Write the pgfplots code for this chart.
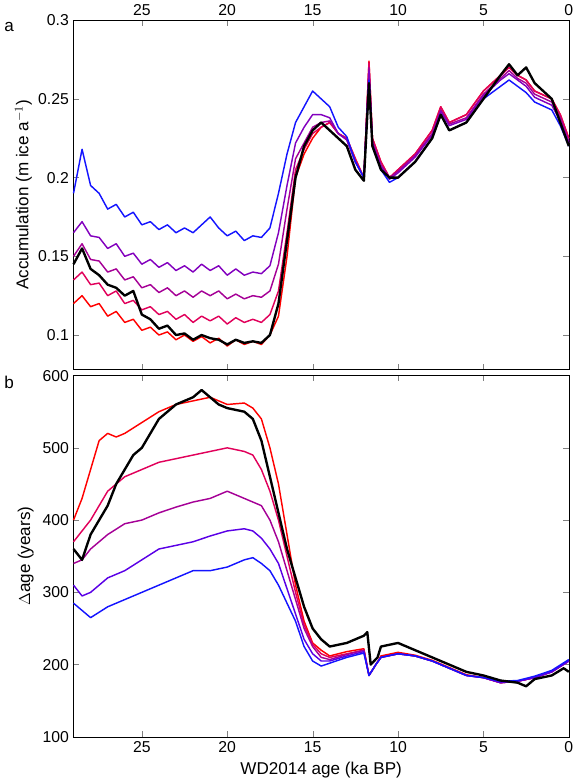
\documentclass[border=0pt]{standalone}
\usepackage{pgfplots}
\pgfplotsset{compat=1.18}
\usepackage{fontspec}
\setmainfont{Liberation Sans}
\definecolor{c1}{RGB}{255,0,0}
\definecolor{c2}{RGB}{225,0,90}
\definecolor{c3}{RGB}{165,0,150}
\definecolor{c4}{RGB}{130,0,190}
\definecolor{c5}{RGB}{90,0,230}
\definecolor{c6}{RGB}{20,20,255}
\begin{document}
\begin{tikzpicture}
\pgfplotsset{every axis/.style={width=377pt,scale only axis,x dir=reverse,xmin=0,xmax=29,
 xtick={0,5,10,15,20,25},tick align=inside,
 /pgf/number format/assume math mode=true,
 tick label style={font=\fontsize{12}{14}\selectfont},
 label style={font=\fontsize{13}{15}\selectfont},
 every axis plot/.append style={line width=1.1pt,line join=round}}}
\begin{axis}[name=top,height=266pt,ymin=0.078,ymax=0.3,ytick={0.1,0.15,0.2,0.25,0.3},
 yticklabel style={/pgf/number format/fixed,/pgf/number format/precision=2},
 xticklabel pos=upper, ylabel={Accumulation (m ice a$^{-1}$)},ylabel shift=-2pt,
 clip=false]
\node[font=\fontsize{13}{15}\selectfont] at (rel axis cs:-0.13,0.98) {a};
% red
\addplot[c1] coordinates {(29,0.12)(28.5,0.125)(28,0.118)(27.5,0.12)(27,0.112)(26.5,0.115)(26,0.108)(25.5,0.11)(25,0.103)(24.5,0.105)(24,0.1)(23.5,0.102)(23,0.097)(22.5,0.1)(22,0.096)(21.5,0.099)(21,0.095)(20.5,0.098)(20,0.093)(19.5,0.097)(19,0.094)(18.5,0.096)(18,0.094)(17.5,0.1)(17,0.112)(16.5,0.15)(16,0.2)(15.5,0.215)(15,0.225)(14.5,0.232)(14,0.235)(13.5,0.228)(13,0.225)(12.5,0.212)(12,0.2)(11.7,0.274)(11.5,0.225)(11,0.21)(10.5,0.2)(10,0.205)(9,0.215)(8,0.23)(7.5,0.245)(7,0.235)(6,0.24)(5,0.255)(4,0.265)(3.5,0.27)(3,0.265)(2.5,0.262)(2,0.255)(1,0.25)(0.5,0.24)(0,0.225)};
\addplot[c2] coordinates {(29,0.135)(28.5,0.14)(28,0.132)(27.5,0.133)(27,0.125)(26.5,0.128)(26,0.12)(25.5,0.122)(25,0.116)(24.5,0.118)(24,0.113)(23.5,0.115)(23,0.11)(22.5,0.113)(22,0.108)(21.5,0.112)(21,0.109)(20.5,0.112)(20,0.107)(19.5,0.111)(19,0.108)(18.5,0.11)(18,0.108)(17.5,0.113)(17,0.128)(16.5,0.165)(16,0.205)(15.5,0.218)(15,0.228)(14.5,0.232)(14,0.235)(13.5,0.228)(13,0.225)(12.5,0.212)(12,0.2)(11.7,0.273)(11.5,0.225)(11,0.21)(10.5,0.2)(10,0.205)(9,0.215)(8,0.23)(7.5,0.245)(7,0.235)(6,0.24)(5,0.255)(4,0.265)(3.5,0.27)(3,0.265)(2.5,0.262)(2,0.255)(1,0.25)(0.5,0.24)(0,0.225)};
\addplot[c3] coordinates {(29,0.15)(28.5,0.158)(28,0.148)(27.5,0.147)(27,0.14)(26.5,0.142)(26,0.135)(25.5,0.137)(25,0.13)(24.5,0.132)(24,0.127)(23.5,0.13)(23,0.125)(22.5,0.128)(22,0.124)(21.5,0.128)(21,0.125)(20.5,0.128)(20,0.123)(19.5,0.126)(19,0.123)(18.5,0.125)(18,0.124)(17.5,0.128)(17,0.145)(16.5,0.18)(16,0.212)(15.5,0.222)(15,0.232)(14.5,0.235)(14,0.236)(13.5,0.228)(13,0.224)(12.5,0.21)(12,0.2)(11.7,0.27)(11.5,0.223)(11,0.208)(10.5,0.2)(10,0.204)(9,0.214)(8,0.228)(7.5,0.243)(7,0.234)(6,0.238)(5,0.253)(4,0.263)(3.5,0.268)(3,0.263)(2.5,0.26)(2,0.253)(1,0.248)(0.5,0.238)(0,0.223)};
\addplot[c4] coordinates {(29,0.165)(28.5,0.172)(28,0.163)(27.5,0.162)(27,0.155)(26.5,0.158)(26,0.15)(25.5,0.152)(25,0.145)(24.5,0.148)(24,0.143)(23.5,0.146)(23,0.141)(22.5,0.144)(22,0.14)(21.5,0.145)(21,0.141)(20.5,0.144)(20,0.138)(19.5,0.142)(19,0.138)(18.5,0.14)(18,0.139)(17.5,0.144)(17,0.165)(16.5,0.195)(16,0.222)(15.5,0.232)(15,0.24)(14.5,0.24)(14,0.238)(13.5,0.228)(13,0.224)(12.5,0.21)(12,0.2)(11.7,0.268)(11.5,0.222)(11,0.207)(10.5,0.199)(10,0.203)(9,0.213)(8,0.227)(7.5,0.242)(7,0.233)(6,0.237)(5,0.252)(4,0.262)(3.5,0.266)(3,0.262)(2.5,0.258)(2,0.251)(1,0.246)(0.5,0.236)(0,0.222)};
\addplot[c6] coordinates {(29,0.19)(28.5,0.218)(28,0.195)(27.5,0.19)(27,0.18)(26.5,0.183)(26,0.175)(25.5,0.178)(25,0.17)(24.5,0.172)(24,0.167)(23.5,0.17)(23,0.165)(22.5,0.168)(22,0.165)(21.5,0.17)(21,0.175)(20.5,0.168)(20,0.163)(19.5,0.166)(19,0.16)(18.5,0.163)(18,0.162)(17.5,0.168)(17,0.19)(16.5,0.215)(16,0.235)(15.5,0.245)(15,0.255)(14.5,0.25)(14,0.245)(13.5,0.232)(13,0.226)(12.5,0.21)(12,0.2)(11.7,0.262)(11.5,0.22)(11,0.205)(10.5,0.197)(10,0.2)(9,0.21)(8,0.225)(7.5,0.24)(7,0.23)(6,0.235)(5,0.25)(4,0.258)(3.5,0.262)(3,0.258)(2.5,0.254)(2,0.248)(1,0.243)(0.5,0.233)(0,0.22)};
\addplot[black,line width=1.8pt] coordinates {(29,0.145)(28.5,0.155)(28,0.142)(27.5,0.138)(27,0.132)(26.5,0.13)(26,0.125)(25.5,0.128)(25,0.113)(24.5,0.11)(24,0.104)(23.5,0.106)(23,0.1)(22.5,0.101)(22,0.097)(21.5,0.1)(21,0.098)(20.5,0.097)(20,0.094)(19.5,0.097)(19,0.095)(18.5,0.096)(18,0.095)(17.5,0.1)(17,0.12)(16.5,0.16)(16,0.2)(15.5,0.22)(15,0.23)(14.5,0.235)(14,0.23)(13.5,0.225)(13,0.22)(12.5,0.205)(12,0.198)(11.7,0.26)(11.5,0.22)(11,0.205)(10.5,0.2)(10,0.2)(9,0.21)(8,0.225)(7.5,0.24)(7,0.23)(6,0.235)(5,0.25)(4,0.265)(3.5,0.272)(3,0.265)(2.5,0.27)(2,0.26)(1,0.25)(0.5,0.235)(0,0.22)};
\end{axis}
\begin{axis}[at={(top.south west)},anchor=north west,yshift=-4.5pt,height=275pt,ymin=100,ymax=600,
 ytick={100,200,300,400,500,600},xlabel={WD2014 age (ka BP)},ylabel={$\Delta$age (years)},clip=false]
\node[font=\fontsize{13}{15}\selectfont] at (rel axis cs:-0.13,0.98) {b};
\addplot[c1] coordinates {(29,400)(28.5,430)(28,470)(27.5,510)(27,520)(26.5,515)(26,520)(25,535)(24,550)(23,560)(22,565)(21,570)(20,560)(19,562)(18.5,555)(18,540)(17.5,500)(17,450)(16.5,380)(16,310)(15.5,260)(15,230)(14.5,220)(14,212)(13,218)(12,222)(11.7,185)(11.3,200)(11,212)(10,217)(9,213)(8,206)(7,196)(6,186)(5,182)(4,175)(3,177)(2,182)(1,190)(0,205)};
\addplot[c2] coordinates {(29,370)(28.5,385)(28,400)(27.5,420)(27,440)(26,460)(25,470)(24,480)(23,485)(22,490)(21,495)(20,500)(19,495)(18.5,490)(18,470)(17.5,440)(17,400)(16.5,350)(16,300)(15.5,255)(15,228)(14.5,215)(14,210)(13,215)(12,220)(11.7,185)(11.3,200)(11,210)(10,215)(9,212)(8,205)(7,195)(6,185)(5,182)(4,175)(3,177)(2,182)(1,190)(0,205)};
\addplot[c3] coordinates {(29,340)(28.5,345)(28,360)(27,380)(26,395)(25,400)(24,410)(23,418)(22,425)(21,430)(20,440)(19,430)(18.5,425)(18,420)(17.5,400)(17,370)(16.5,330)(16,290)(15.5,250)(15,225)(14.5,210)(14,207)(13,214)(12,220)(11.7,185)(11.3,200)(11,210)(10,215)(9,212)(8,205)(7,195)(6,185)(5,182)(4,175)(3,177)(2,182)(1,190)(0,205)};
\addplot[c5] coordinates {(29,310)(28.5,295)(28,300)(27,320)(26,330)(25,345)(24,360)(23,365)(22,370)(21,378)(20,385)(19,388)(18.5,385)(18,375)(17.5,360)(17,340)(16.5,305)(16,270)(15.5,235)(15,215)(14.5,205)(14,205)(13,212)(12,218)(11.7,185)(11.3,200)(11,210)(10,215)(9,212)(8,205)(7,195)(6,185)(5,182)(4,175)(3,177)(2,182)(1,190)(0,205)};
\addplot[c6] coordinates {(29,285)(28.5,275)(28,265)(27,280)(26,290)(25,300)(24,310)(23,320)(22,330)(21,330)(20,335)(19,345)(18.5,348)(18,340)(17.5,330)(17,310)(16.5,285)(16,260)(15.5,225)(15,205)(14.5,198)(14,202)(13,210)(12,216)(11.7,185)(11.3,200)(11,210)(10,215)(9,212)(8,205)(7,195)(6,185)(5,182)(4,177)(3,178)(2,184)(1,192)(0,207)};
\addplot[black,line width=1.8pt] coordinates {(29,360)(28.5,345)(28,380)(27.5,400)(27,420)(26.5,450)(26,470)(25.5,490)(25,500)(24,540)(23,560)(22,570)(21.5,580)(21,570)(20.5,560)(20,555)(19,550)(18.5,540)(18,510)(17.5,460)(17,410)(16.5,360)(16,320)(15.5,280)(15,250)(14.5,235)(14,225)(13,230)(12,240)(11.8,245)(11.6,200)(11.2,210)(11,225)(10,230)(9,220)(8,210)(7,200)(6,190)(5,185)(4,178)(3,175)(2.5,170)(2,180)(1,185)(0.3,195)(0,190)};
\end{axis}
\end{tikzpicture}
\end{document}
